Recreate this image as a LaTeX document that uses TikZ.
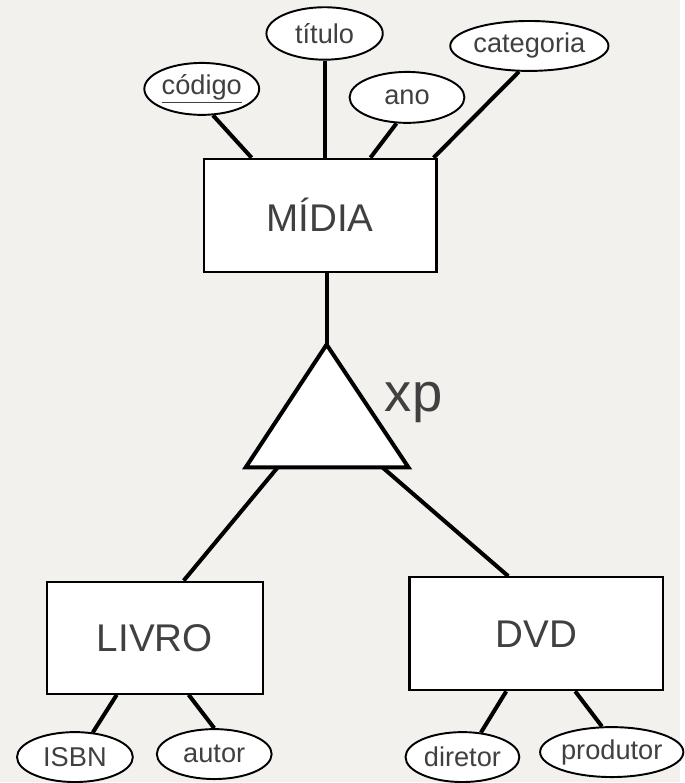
\documentclass[tikz,border=0pt]{standalone}
\usepackage{fontspec}
\setmainfont{Liberation Sans}
\usetikzlibrary{shapes.geometric}
\definecolor{paper}{HTML}{F3F1EE}
\definecolor{ink}{HTML}{404040}

\begin{document}
\begin{tikzpicture}[
        x = 0.02cm, y = -0.02cm, % one unit = one pixel of the sketch
        attr/.style = {ellipse, draw, fill=white, line width=1.1pt, inner sep=0pt,
                       text=ink, font=\fontsize{15.5}{18}\selectfont},
        entity/.style = {rectangle, draw, fill=white, line width=1.3pt, inner sep=0pt,
                         text=ink, font=\fontsize{22}{26}\selectfont},
        link/.style = {line width=2.3pt} % connector lines
        ]

  \fill[paper] (0,0) rectangle (681,783);

  % entities
  \node[entity, minimum width=4.66cm, minimum height=2.26cm] (midia) at (320.5,215.5) {MÍDIA};
  \node[entity, minimum width=4.32cm, minimum height=2.24cm] (livro) at (155,638.5) {LIVRO};
  \node[entity, minimum width=5.08cm, minimum height=2.26cm] (dvd) at (537,634.5) {DVD};

  % attributes
  \node[attr, minimum width=2.3cm, minimum height=1.04cm] (codigo) at (202,89) {\underline{código}};
  \node[attr, minimum width=2.33cm, minimum height=1.05cm] (titulo) at (325,33.5) {título};
  \node[attr, minimum width=2.3cm, minimum height=1.02cm] (ano) at (407.5,97.5) {ano};
  \node[attr, minimum width=2.52cm, minimum height=1.0cm] (categoria) at (530,46) {categoria};
  \node[attr, minimum width=2.32cm, minimum height=1.0cm] (isbn) at (75,758) {ISBN};
  \node[attr, minimum width=2.3cm, minimum height=1.0cm] (autor) at (214.5,755) {autor};
  \node[attr, minimum width=2.28cm, minimum height=1.0cm] (diretor) at (463,758) {diretor};
  \node[attr, minimum width=2.7cm, minimum height=1.0cm] (produtor) at (612.5,753) {produtor};

  % specialization triangle
  \coordinate (apex) at (327,345);
  \coordinate (base-l) at (246,468);
  \coordinate (base-r) at (409,468);
  \coordinate (isa-l) at (278,468);
  \coordinate (isa-r) at (383,468);
  \draw[link, fill=white, line join=miter] (apex) -- (base-l) -- (base-r) -- cycle;
  \node[text=ink, font=\fontsize{31}{36}\selectfont, anchor=base west, inner sep=0pt] (xp) at (385,412) {xp};

  \draw[link] (codigo.-67) -- ([shift={(49,0)}]midia.north west);
  \draw[link] (titulo.south) -- (titulo.south |- midia.north);
  \draw[link] (ano.-112) -- ([shift={(168,0)}]midia.north west);
  \draw[link] (categoria.-112) -- ([shift={(-4,0)}]midia.north east);
  \draw[link] (apex |- midia.south) -- (apex);

  \draw[link] (isa-l) -- ([shift={(138,0)}]livro.north west);
  \draw[link] (isa-r) -- ([shift={(100,0)}]dvd.north west);

  \draw[link] ([shift={(71,0)}]livro.south west) -- (isbn.54);
  \draw[link] ([shift={(143,0)}]livro.south west) -- (autor.north);
  \draw[link] ([shift={(98,0)}]dvd.south west) -- (diretor.53);
  \draw[link] ([shift={(167,0)}]dvd.south west) -- (produtor.111);

\end{tikzpicture}
\end{document}
